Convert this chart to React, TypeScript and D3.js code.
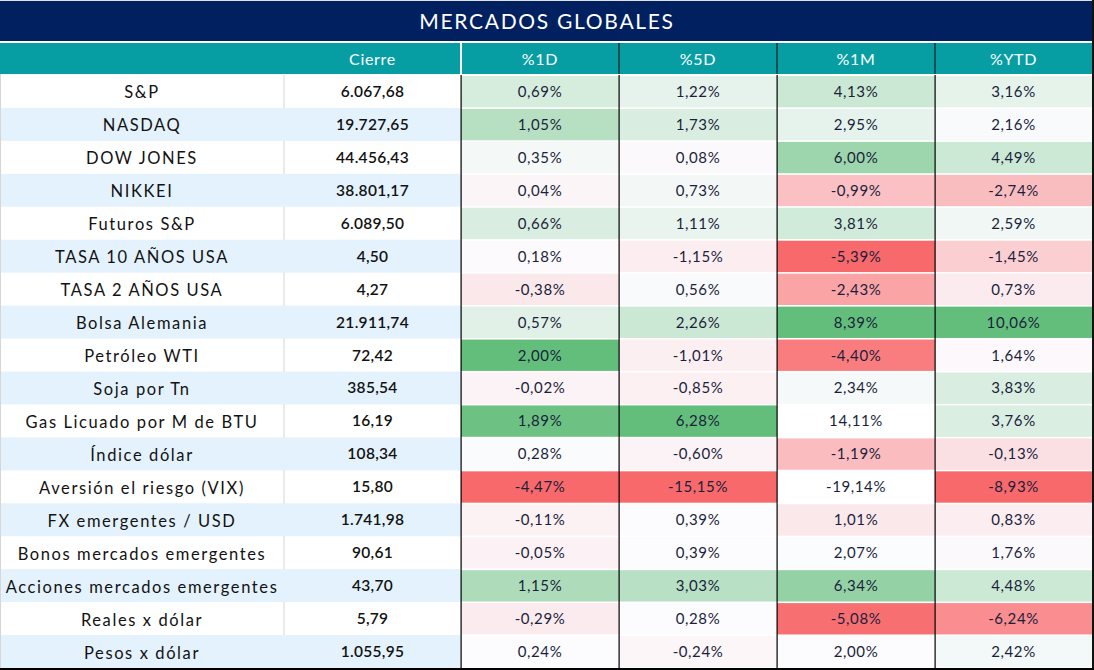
import React from "react";
import * as d3 from "d3";

const title = "MERCADOS GLOBALES";
const headers = ["", "Cierre", "%1D", "%5D", "%1M", "%YTD"];
const names = [
  "S&P", "NASDAQ", "DOW JONES", "NIKKEI", "Futuros S&P", "TASA 10 AÑOS USA",
  "TASA 2 AÑOS USA", "Bolsa Alemania", "Petróleo WTI", "Soja por Tn",
  "Gas Licuado por M de BTU", "Índice dólar", "Aversión el riesgo (VIX)",
  "FX emergentes / USD", "Bonos mercados emergentes", "Acciones mercados emergentes",
  "Reales x dólar", "Pesos x dólar",
];
const cierre = [
  6067.68, 19727.65, 44456.43, 38801.17, 6089.5, 4.5, 4.27, 21911.74, 72.42,
  385.54, 16.19, 108.34, 15.8, 1741.98, 90.61, 43.7, 5.79, 1055.95,
];
const pct1D = [
  0.69, 1.05, 0.35, 0.04, 0.66, 0.18, -0.38, 0.57, 2.0, -0.02, 1.89, 0.28,
  -4.47, -0.11, -0.05, 1.15, -0.29, 0.24,
];
const pct5D = [
  1.22, 1.73, 0.08, 0.73, 1.11, -1.15, 0.56, 2.26, -1.01, -0.85, 6.28, -0.6,
  -15.15, 0.39, 0.39, 3.03, 0.28, -0.24,
];
const pct1M = [
  4.13, 2.95, 6.0, -0.99, 3.81, -5.39, -2.43, 8.39, -4.4, 2.34, 14.11, -1.19,
  -19.14, 1.01, 2.07, 6.34, -5.08, 2.0,
];
const pctYTD = [
  3.16, 2.16, 4.49, -2.74, 2.59, -1.45, 0.73, 10.06, 1.64, 3.83, 3.76, -0.13,
  -8.93, 0.83, 1.76, 4.48, -6.24, 2.42,
];
// cells that carry no colour-scale fill in the source (row indexes per column)
const unfilled1M = [10, 12];

const W = 1094;
const H = 670;
const INNER_W = 1092;
const colWidths = [284, 177, 158, 158, 158, 157];
const colEdges = colWidths.reduce((acc, w) => [...acc, acc[acc.length - 1] + w], [0]);
const TITLE_H = 41;
const HEAD_Y = 43;
const HEAD_H = 31;
const BODY_Y0 = 75;
const BODY_Y1 = 668;

const NAVY = "#002060";
const TEAL = "#079ea3";
const STRIPE = "#e4f2fd";
const TEXT = "#121212";
const VAL_TEXT = "#1a1f3c";
const FONT = "Lato, 'Open Sans', sans-serif";

const loc = d3.formatLocale({
  decimal: ",",
  thousands: ".",
  grouping: [3],
  currency: ["", ""],
  minus: "-",
} as any);
const fmtClose = loc.format(",.2f");
const fmtPct = (v: number) => loc.format(".2f")(v) + "%";

function makeColor(vals: number[], excluded: number[]) {
  const v = vals.filter((_, i) => !excluded.includes(i)).sort(d3.ascending);
  const mn = v[0];
  const mx = v[v.length - 1];
  const md = d3.quantile(v, 0.5) as number;
  const s = d3
    .scaleLinear<string>()
    .domain([mn, md, mx])
    .range(["#F8696B", "#FCFCFF", "#63BE7B"])
    .interpolate(d3.interpolateRgb);
  return (val: number, i: number) => (excluded.includes(i) ? "#ffffff" : s(val));
}

const pctCols = [
  { key: "%1D", vals: pct1D, color: makeColor(pct1D, []) },
  { key: "%5D", vals: pct5D, color: makeColor(pct5D, []) },
  { key: "%1M", vals: pct1M, color: makeColor(pct1M, unfilled1M) },
  { key: "%YTD", vals: pctYTD, color: makeColor(pctYTD, []) },
];

export default function App() {
  const y = d3.scaleBand<string>().domain(names).range([BODY_Y0, BODY_Y1]).padding(0);
  const bw = y.bandwidth();
  const ty = (n: string) => y(n)! + bw / 2 - 0.5;
  return (
    <svg
      width={W}
      height={H}
      style={{ position: "fixed", left: 0, top: 0, background: "#fff" }}
      fontFamily={FONT}
    >
      <rect x={0} y={0} width={W} height={H} fill="#fff" />
      {/* title */}
      <rect x={0} y={0} width={INNER_W} height={1} fill="#e0e0e0" />
      <rect x={0} y={1} width={INNER_W} height={TITLE_H - 1} fill={NAVY} />
      <text
        x={INNER_W / 2 + 1}
        y={TITLE_H / 2 - 0.5}
        textAnchor="middle"
        dominantBaseline="central"
        fill="#fff"
        fontSize={21}
        letterSpacing={1.7}
      >
        {title}
      </text>
      {/* header */}
      <rect x={0} y={HEAD_Y} width={INNER_W} height={HEAD_H} fill={TEAL} />
      <rect x={colEdges[2] - 1} y={HEAD_Y} width={2} height={HEAD_H} fill="#fff" />
      {[3, 4, 5].map((c) => (
        <rect key={c} x={colEdges[c] - 0.5} y={HEAD_Y} width={1} height={HEAD_H} fill="#000" />
      ))}
      {headers.map((h, c) =>
        h ? (
          <text
            key={h}
            x={(colEdges[c] + colEdges[c + 1]) / 2}
            y={HEAD_Y + HEAD_H / 2 - 0.5}
            textAnchor="middle"
            dominantBaseline="central"
            fill="#fff"
            fontSize={16}
            letterSpacing={0.7}
          >
            {h}
          </text>
        ) : null
      )}
      {/* body background stripes */}
      <rect x={colEdges[1] - 0.5} y={BODY_Y0} width={1} height={BODY_Y1 - BODY_Y0} fill="#d6d6d6" />
      {names.map((n, i) =>
        i % 2 === 1 ? (
          <rect key={"s" + n} x={0} y={y(n)!} width={colEdges[2]} height={bw} fill={STRIPE} />
        ) : null
      )}
      <rect x={0} y={HEAD_Y + HEAD_H} width={1} height={BODY_Y1 - HEAD_Y - HEAD_H} fill="#d6d6d6" />
      {/* heat cells */}
      {pctCols.map((col, ci) =>
        names.map((n, i) => (
          <rect
            key={col.key + n}
            x={colEdges[ci + 2]}
            y={y(n)! + 1}
            width={colWidths[ci + 2]}
            height={bw - 1.6}
            fill={col.color(col.vals[i], i)}
          />
        ))
      )}
      {[2, 3, 4, 5].map((c) => (
        <rect key={"v" + c} x={colEdges[c] - 0.5} y={BODY_Y0} width={1.2} height={BODY_Y1 - BODY_Y0} fill="#000" />
      ))}
      {/* texts */}
      {names.map((n, i) => (
        <g key={"t" + n}>
          <text
            x={(colEdges[0] + colEdges[1]) / 2}
            y={ty(n) + 1.5}
            textAnchor="middle"
            dominantBaseline="central"
            fill={TEXT}
            fontSize={16.5}
            letterSpacing={1.6}
          >
            {n}
          </text>
          <text
            x={(colEdges[1] + colEdges[2]) / 2}
            y={ty(n)}
            textAnchor="middle"
            dominantBaseline="central"
            fill={TEXT}
            fontSize={15.5}
            fontWeight={600}
            letterSpacing={0.3}
          >
            {fmtClose(cierre[i])}
          </text>
          {pctCols.map((col, ci) => (
            <text
              key={col.key}
              x={(colEdges[ci + 2] + colEdges[ci + 3]) / 2}
              y={ty(n)}
              textAnchor="middle"
              dominantBaseline="central"
              fill={VAL_TEXT}
              fontSize={15}
              letterSpacing={0.6}
            >
              {fmtPct(col.vals[i])}
            </text>
          ))}
        </g>
      ))}
      {/* outer dark borders */}
      <rect x={INNER_W} y={0} width={W - INNER_W} height={H} fill="#111" />
      <rect x={0} y={BODY_Y1} width={W} height={H - BODY_Y1} fill="#000" />
    </svg>
  );
}
